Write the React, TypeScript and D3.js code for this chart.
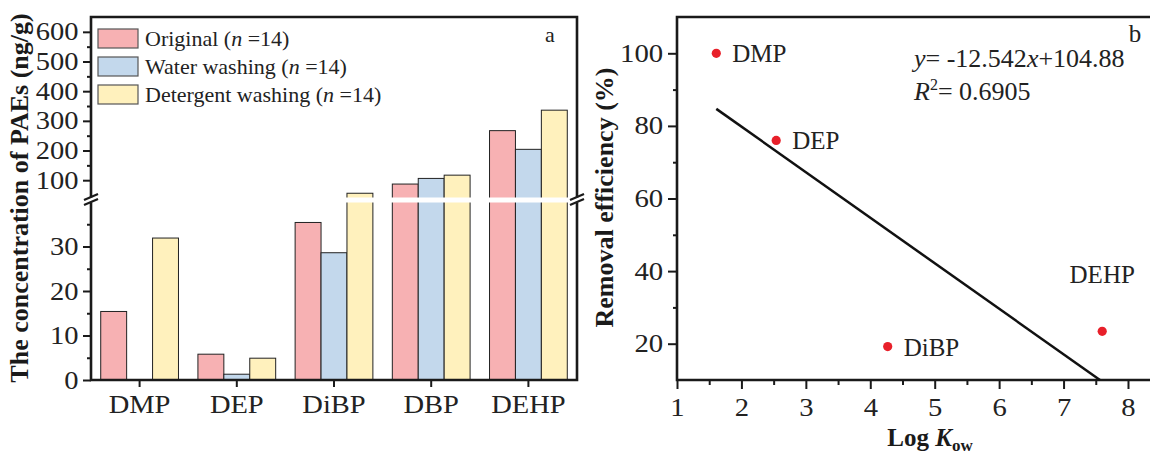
import React, { useEffect, useRef } from "react";
import * as d3 from "d3";

// panel a: PAE concentrations
const categories = ["DMP", "DEP", "DiBP", "DBP", "DEHP"];
const seriesNames = ["Original", "Water washing", "Detergent washing"];
const sampleSizes = [14, 14, 14];
const original = [15.4, 5.8, 35.4, 87, 267];
const waterWashing = [0, 1.3, 28.6, 106, 204];
const detergentWashing = [31.9, 4.9, 56, 117, 336];
const seriesColors = ["#f7b1b3", "#c3d8ec", "#fff1bd"];
const lowerTicks = [0, 10, 20, 30];
const lowerMinor = [5, 15, 25, 35];
const upperTicks = [100, 200, 300, 400, 500, 600];
const upperMinor = [150, 250, 350, 450, 550];

// panel b: removal efficiency vs log Kow
const compounds = ["DMP", "DEP", "DiBP", "DEHP"];
const logKow = [1.61, 2.54, 4.27, 7.6];
const removal = [100, 76, 19.2, 23.4];
const fitSlope = -12.542;
const fitIntercept = 104.88;
const fitR2 = "0.6905";
const fitRange = [1.61, 7.565];
const kowTicks = [1, 2, 3, 4, 5, 6, 7, 8];
const kowMinor = [1.5, 2.5, 3.5, 4.5, 5.5, 6.5, 7.5, 8.5];
const removalTicks = [20, 40, 60, 80, 100];
const removalMinor = [30, 50, 70, 90];

const FONT = '"Liberation Serif", "Times New Roman", serif';

// tick labels in the figure are a bit wider than plain Times, so stretch them
function styleAxis(g: any, fontSize: number, stretch = 1) {
  g.select(".domain").remove();
  g.selectAll(".tick line").attr("stroke", "#1a1a1a").attr("stroke-width", 2);
  g.selectAll(".tick text")
    .attr("font-family", FONT)
    .attr("font-size", fontSize)
    .attr("fill", "#222")
    .attr("transform", `scale(${stretch},1)`);
}

export default function App() {
  const svgRef = useRef<SVGSVGElement>(null);

  useEffect(() => {
    const svg = d3.select(svgRef.current);
    svg.selectAll("*").remove();
    svg.attr("font-family", FONT);

    // ---------- panel a ----------
    const a = { left: 91, right: 577, top: 17, bottom: 380 };
    const yLow = d3.scaleLinear().domain([0, 40]).range([a.bottom, 202]);
    const yHigh = d3.scaleLinear().domain([40, 650]).range([198, a.top]);
    const yVal = (v: number) => (v <= 40 ? yLow(v) : yHigh(v));

    const x0 = d3.scaleBand().domain(categories).range([a.left, a.right])
      .paddingInner(0.2).paddingOuter(0.1);
    const x1 = d3.scaleBand().domain(seriesNames).range([0, x0.bandwidth()]);
    const series = [original, waterWashing, detergentWashing];

    const bars = svg.append("g");
    categories.forEach((c, i) => {
      series.forEach((vals, j) => {
        const v = vals[i];
        if (v <= 0) return;
        bars.append("rect")
          .attr("x", (x0(c) as number) + (x1(seriesNames[j]) as number))
          .attr("y", yVal(v))
          .attr("width", x1.bandwidth())
          .attr("height", a.bottom - yVal(v))
          .attr("fill", seriesColors[j])
          .attr("stroke", "#222")
          .attr("stroke-width", 1);
      });
    });

    // frame
    svg.append("path")
      .attr("d", `M${a.left},${a.top}H${a.right}V${a.bottom}H${a.left}Z`)
      .attr("fill", "none").attr("stroke", "#1a1a1a").attr("stroke-width", 2.6);

    const gl = svg.append("g").attr("transform", `translate(${a.left},0)`)
      .call(d3.axisLeft(yLow).tickValues(lowerTicks).tickSize(8).tickPadding(3));
    styleAxis(gl, 25, 1.14);
    const glm = svg.append("g").attr("transform", `translate(${a.left},0)`)
      .call(d3.axisLeft(yLow).tickValues(lowerMinor).tickSize(4).tickFormat(() => ""));
    styleAxis(glm, 25);
    const gu = svg.append("g").attr("transform", `translate(${a.left},0)`)
      .call(d3.axisLeft(yHigh).tickValues(upperTicks).tickSize(8).tickPadding(3));
    styleAxis(gu, 25, 1.14);
    const gum = svg.append("g").attr("transform", `translate(${a.left},0)`)
      .call(d3.axisLeft(yHigh).tickValues(upperMinor).tickSize(4).tickFormat(() => ""));
    styleAxis(gum, 25);

    const gx = svg.append("g").attr("transform", `translate(0,${a.bottom})`)
      .call(d3.axisBottom(x0).tickSize(7).tickPadding(8));
    styleAxis(gx, 25, 1.14);

    // axis break
    svg.append("rect")
      .attr("x", a.left - 10).attr("y", 197.5)
      .attr("width", a.right - a.left + 20).attr("height", 5)
      .attr("fill", "#fff");
    [a.left, a.right].forEach((xb) => {
      [0, 5].forEach((off) => {
        svg.append("line")
          .attr("x1", xb - 7).attr("y1", 200 + off)
          .attr("x2", xb + 7).attr("y2", 194 + off)
          .attr("stroke", "#1a1a1a").attr("stroke-width", 2.2);
      });
    });

    // legend
    const leg = svg.append("g");
    seriesNames.forEach((name, j) => {
      const yy = 29 + j * 28;
      leg.append("rect")
        .attr("x", 98).attr("y", yy).attr("width", 40).attr("height", 19)
        .attr("fill", seriesColors[j]).attr("stroke", "#555").attr("stroke-width", 1.2);
      const t = leg.append("text").attr("x", 145).attr("y", yy + 17)
        .attr("font-size", 22).attr("fill", "#222");
      t.append("tspan").text(`${name} (`);
      t.append("tspan").attr("font-style", "italic").text("n");
      t.append("tspan").text(` =${sampleSizes[j]})`);
    });

    svg.append("text").attr("x", 550).attr("y", 42).attr("text-anchor", "middle")
      .attr("font-size", 22).attr("fill", "#222").text("a");

    svg.append("text")
      .attr("transform", "rotate(-90)")
      .attr("x", -198).attr("y", 28)
      .attr("text-anchor", "middle")
      .attr("font-size", 26).attr("font-weight", "bold").attr("fill", "#1a1a1a")
      .text("The concentration of PAEs (ng/g)");

    // ---------- panel b ----------
    const b = { left: 677, right: 1160.2, top: 17, bottom: 380 };
    const xs = d3.scaleLinear().domain([1, 8.5]).range([b.left, b.right]);
    const ys = d3.scaleLinear().domain([10, 110]).range([b.bottom, b.top]);

    svg.append("path")
      .attr("d", `M${b.right},${b.top}H${b.left}V${b.bottom}H${b.right}Z`)
      .attr("fill", "none").attr("stroke", "#1a1a1a").attr("stroke-width", 2.6);

    const bx = svg.append("g").attr("transform", `translate(0,${b.bottom})`)
      .call(d3.axisBottom(xs).tickValues(kowTicks).tickSize(9).tickPadding(9).tickFormat(d3.format("d")));
    styleAxis(bx, 26, 1.1);
    const bxm = svg.append("g").attr("transform", `translate(0,${b.bottom})`)
      .call(d3.axisBottom(xs).tickValues(kowMinor).tickSize(5).tickFormat(() => ""));
    styleAxis(bxm, 26);
    const by = svg.append("g").attr("transform", `translate(${b.left},0)`)
      .call(d3.axisLeft(ys).tickValues(removalTicks).tickSize(9).tickPadding(3));
    styleAxis(by, 25, 1.15);
    const bym = svg.append("g").attr("transform", `translate(${b.left},0)`)
      .call(d3.axisLeft(ys).tickValues(removalMinor).tickSize(4).tickFormat(() => ""));
    styleAxis(bym, 25);

    const fitLine = d3.line<number>()
      .x((d) => xs(d))
      .y((d) => ys(fitSlope * d + fitIntercept));
    svg.append("path").datum(fitRange)
      .attr("d", fitLine)
      .attr("fill", "none").attr("stroke", "#111").attr("stroke-width", 2.5);

    compounds.forEach((c, i) => {
      const px = xs(logKow[i]);
      const py = ys(removal[i]);
      svg.append("circle").attr("cx", px).attr("cy", py).attr("r", 4.6).attr("fill", "#e8202a");
      const isAbove = c === "DEHP";
      svg.append("text")
        .attr("x", isAbove ? px : px + 16)
        .attr("y", isAbove ? py - 48 : py + 9)
        .attr("text-anchor", isAbove ? "middle" : "start")
        .attr("font-size", 25).attr("fill", "#222")
        .text(c);
    });

    const eq = svg.append("text").attr("x", 914).attr("y", 67)
      .attr("font-size", 26).attr("fill", "#222");
    eq.append("tspan").attr("font-style", "italic").text("y");
    eq.append("tspan").text(`= ${fitSlope}`);
    eq.append("tspan").attr("font-style", "italic").text("x");
    eq.append("tspan").text(`+${fitIntercept}`);

    const r2 = svg.append("text").attr("x", 914).attr("y", 100)
      .attr("font-size", 26).attr("fill", "#222");
    r2.append("tspan").attr("font-style", "italic").text("R");
    r2.append("tspan").attr("font-size", 16).attr("dy", -10).text("2");
    r2.append("tspan").attr("dy", 10).text(`= ${fitR2}`);

    svg.append("text").attr("x", 1135).attr("y", 42).attr("text-anchor", "middle")
      .attr("font-size", 25).attr("fill", "#222").text("b");

    svg.append("text")
      .attr("transform", "rotate(-90)")
      .attr("x", -197.5).attr("y", 613)
      .attr("text-anchor", "middle")
      .attr("font-size", 26).attr("font-weight", "bold").attr("fill", "#1a1a1a")
      .text("Removal efficiency (%)");

    const xt = svg.append("text").attr("x", 930).attr("y", 446)
      .attr("text-anchor", "middle")
      .attr("font-size", 25).attr("font-weight", "bold").attr("fill", "#1a1a1a");
    xt.append("tspan").text("Log ");
    xt.append("tspan").attr("font-style", "italic").text("K");
    xt.append("tspan").attr("font-size", 17).attr("dy", 5).text("ow");
  }, []);

  return (
    <svg
      ref={svgRef}
      width={1150}
      height={455}
      style={{ position: "absolute", left: 0, top: 0, background: "#fff" }}
    />
  );
}
